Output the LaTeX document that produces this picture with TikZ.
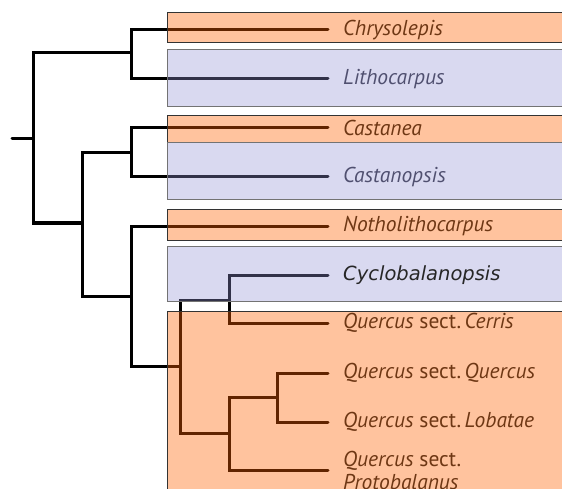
\documentclass[tikz,border=0pt]{standalone}
\usepackage{fontspec}
\setmainfont{PT Sans}
\newfontfamily\cyclofont{DejaVu Sans}
\usetikzlibrary{positioning}
\usepackage{xcolor}

\definecolor{oakorange}{RGB}{255,97,0}
\definecolor{oakblue}{RGB}{146,146,211}
\definecolor{orangetext}{RGB}{110,55,20}
\definecolor{bluetext}{RGB}{80,80,112}

\tikzset{
  branch/.style={line width=3pt, black, line cap=round, line join=miter},
  orangeband/.style={fill=oakorange, fill opacity=0.38, draw=black!80, line width=1pt},
  blueband/.style={fill=oakblue, fill opacity=0.35, draw=black!55, line width=1pt},
  taxon/.style={anchor=west, inner sep=0pt, font=\itshape\fontsize{21.5}{23}\selectfont},
}

\begin{document}
\begin{tikzpicture}[x=1pt, y=-1pt]
  \useasboundingbox (0,0) rectangle (562,489);
  \clip (0,0) rectangle (562,489);

  %% internal nodes of the tree
  \coordinate (stub) at (12,139);
  \coordinate (root) at (33,139);
  \coordinate (nA) at (131,53);
  \coordinate (nB) at (82,223);
  \coordinate (nC) at (131,153);
  \coordinate (nD) at (131,296);
  \coordinate (nE) at (180,366);
  \coordinate (nF) at (229,300);
  \coordinate (nG) at (229,433);
  \coordinate (nH) at (277,397);

  %% tips
  \coordinate (chry) at (328,30);
  \coordinate (litho) at (328,79);
  \coordinate (cast) at (328,128);
  \coordinate (castp) at (328,177);
  \coordinate (notho) at (328,226);
  \coordinate (cyclo) at (328,275);
  \coordinate (cerris) at (328,323);
  \coordinate (querc) at (328,373);
  \coordinate (lob) at (328,422);
  \coordinate (proto) at (328,470);

  %% branches
  \draw[branch] (stub) -- (root);
  \foreach \p/\c in {root/nA, root/nB, nA/chry, nA/litho, nB/nC, nB/nD,
                     nC/cast, nC/castp, nD/notho, nD/nE, nE/nF, nE/nG,
                     nF/cyclo, nF/cerris, nG/nH, nG/proto, nH/querc, nH/lob}
    \draw[branch] (\p) |- (\c);

  %% coloured bands over the tips
  \draw[orangeband] (167,13) rectangle (575,43);
  \draw[blueband] (167,50) rectangle (575,107);
  \draw[orangeband] (167,116) rectangle (575,143);
  \draw[blueband] (167,143) rectangle (575,200);
  \draw[orangeband] (167,210) rectangle (575,240);
  \draw[blueband] (167,246) rectangle (575,301);
  \draw[orangeband] (167,311) rectangle (575,520);

  %% labels
  \node[taxon, orangetext, right=15pt of chry] (lchry) {Chrysolepis};
  \node[taxon, bluetext, right=15pt of litho] (llitho) {Lithocarpus};
  \node[taxon, orangetext, right=15pt of cast] (lcast) {Castanea};
  \node[taxon, bluetext, right=15pt of castp] (lcastp) {Castanopsis};
  \node[taxon, orangetext, right=15pt of notho] (lnotho) {Notholithocarpus};
  \node[taxon, black!85, right=15pt of cyclo, font=\cyclofont\itshape\fontsize{19.5}{22}\selectfont] (lcyclo) {Cyclobalanopsis};
  \node[taxon, orangetext, right=15pt of cerris] (lcerris) {Quercus \textup{sect.}\,Cerris};
  \node[taxon, orangetext, right=15pt of querc] (lquerc) {Quercus \textup{sect.}\,Quercus};
  \node[taxon, orangetext, right=15pt of lob] (llob) {Quercus \textup{sect.}\,Lobatae};
  \node[taxon, orangetext, right=15pt of proto, align=left] (lproto) {Quercus \textup{sect.}\\Protobalanus};
\end{tikzpicture}
\end{document}
